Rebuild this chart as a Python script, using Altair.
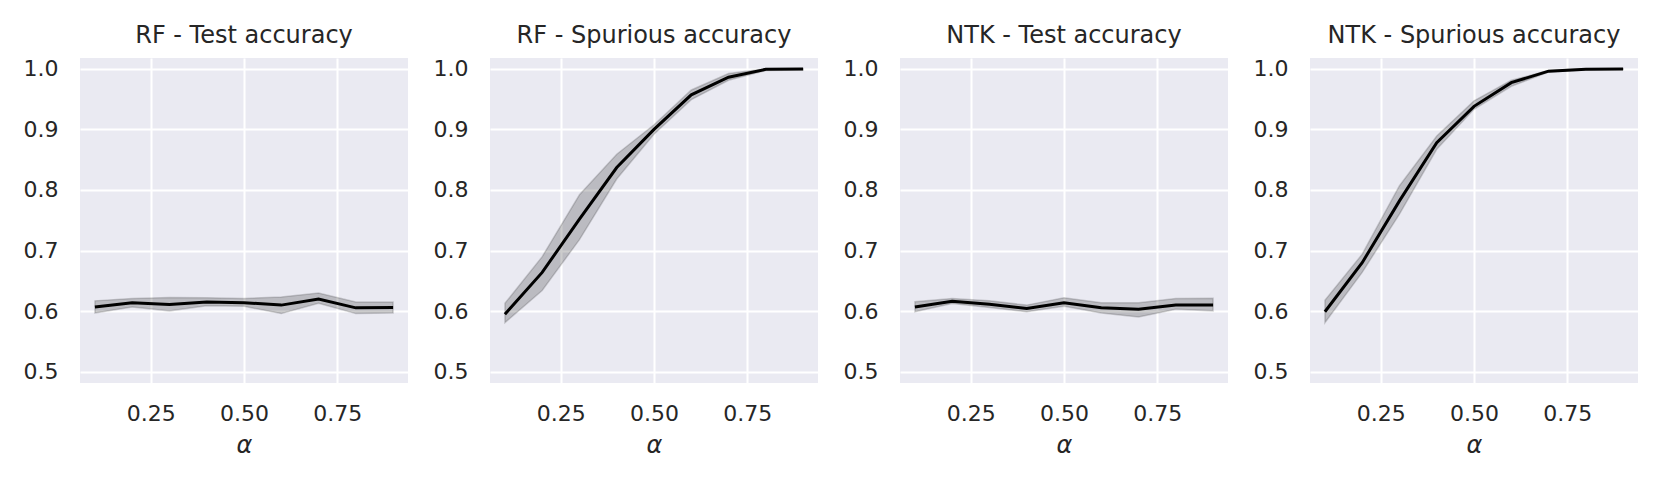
import altair as alt
import pandas as pd

alpha = [0.1, 0.2, 0.3, 0.4, 0.5, 0.6, 0.7, 0.8, 0.9]

titles = ["RF - Test accuracy", "RF - Spurious accuracy",
          "NTK - Test accuracy", "NTK - Spurious accuracy"]

rf_test_mean = [0.607, 0.614, 0.611, 0.615, 0.614, 0.610, 0.620, 0.6055, 0.606]
rf_test_lo = [0.597, 0.607, 0.6005, 0.609, 0.608, 0.596, 0.613, 0.596, 0.597]
rf_test_hi = [0.617, 0.621, 0.6225, 0.622, 0.621, 0.6235, 0.630, 0.615, 0.615]

rf_sp_mean = [0.595, 0.664, 0.752, 0.837, 0.900, 0.957, 0.986, 0.999, 0.9995]
rf_sp_lo = [0.581, 0.634, 0.718, 0.818, 0.892, 0.949, 0.981, 0.997, 0.998]
rf_sp_hi = [0.613, 0.690, 0.792, 0.859, 0.9075, 0.965, 0.992, 1.0, 1.0]

ntk_test_mean = [0.607, 0.6165, 0.6115, 0.6045, 0.614, 0.6055, 0.603, 0.610, 0.610]
ntk_test_lo = [0.599, 0.6125, 0.606, 0.599, 0.608, 0.597, 0.5905, 0.603, 0.6005]
ntk_test_hi = [0.6155, 0.621, 0.617, 0.610, 0.622, 0.614, 0.614, 0.621, 0.6215]

ntk_sp_mean = [0.599, 0.680, 0.782, 0.878, 0.938, 0.977, 0.996, 0.999, 0.9995]
ntk_sp_lo = [0.581, 0.664, 0.760, 0.867, 0.933, 0.971, 0.9945, 0.998, 0.999]
ntk_sp_hi = [0.618, 0.694, 0.807, 0.889, 0.947, 0.981, 0.997, 1.0, 1.0]

x_ticks = [0.25, 0.5, 0.75]
y_ticks = [0.5, 0.6, 0.7, 0.8, 0.9, 1.0]

series = [
    (rf_test_mean, rf_test_lo, rf_test_hi),
    (rf_sp_mean, rf_sp_lo, rf_sp_hi),
    (ntk_test_mean, ntk_test_lo, ntk_test_hi),
    (ntk_sp_mean, ntk_sp_lo, ntk_sp_hi),
]

FONT = "DejaVu Sans"
TXT = "#262626"


def panel(title, mean, lo, hi):
    df = pd.DataFrame({"alpha": alpha, "mean": mean, "lo": lo, "hi": hi})
    x = alt.X("alpha:Q",
              scale=alt.Scale(domain=[0.06, 0.94], nice=False, zero=False),
              axis=alt.Axis(values=x_ticks, format=".2f", title="α",
                            titleFontStyle="italic"))
    y = alt.Y("lo:Q",
              scale=alt.Scale(domain=[0.4815, 1.0177], nice=False, zero=False),
              axis=alt.Axis(values=y_ticks, format=".1f", title=None))
    band = alt.Chart(df).mark_area(
        color="black", fillOpacity=0.2, stroke="black", strokeOpacity=0.16,
        strokeWidth=1.5
    ).encode(x=x, y=y, y2="hi:Q")
    line = alt.Chart(df).mark_line(color="black", strokeWidth=3).encode(
        x=x, y=alt.Y("mean:Q"))
    return alt.layer(band, line).properties(
        width=328, height=325,
        title=alt.TitleParams(title, fontSize=24, font=FONT, color=TXT,
                              fontWeight="normal", baseline="alphabetic",
                              offset=-9, anchor="middle"))


chart = alt.hconcat(
    *[panel(t, *s) for t, s in zip(titles, series)], spacing=25
).properties(
    padding={"left": 15, "top": 15, "right": 5, "bottom": 5}
).configure_view(
    fill="#EAEAF2", stroke=None
).configure_axis(
    domain=False, ticks=False, tickSize=0, grid=True, gridColor="white",
    gridWidth=2, gridOpacity=1, labelFont=FONT, labelFontSize=22,
    labelColor=TXT, titleFont=FONT, titleFontSize=24, titleColor=TXT,
    titleFontWeight="normal"
).configure_axisY(
    labelPadding=22, minExtent=57, maxExtent=57
).configure_axisX(
    labelPadding=20, titlePadding=9
)

chart.save("out.html", embed_options={"renderer": "svg", "actions": False})
